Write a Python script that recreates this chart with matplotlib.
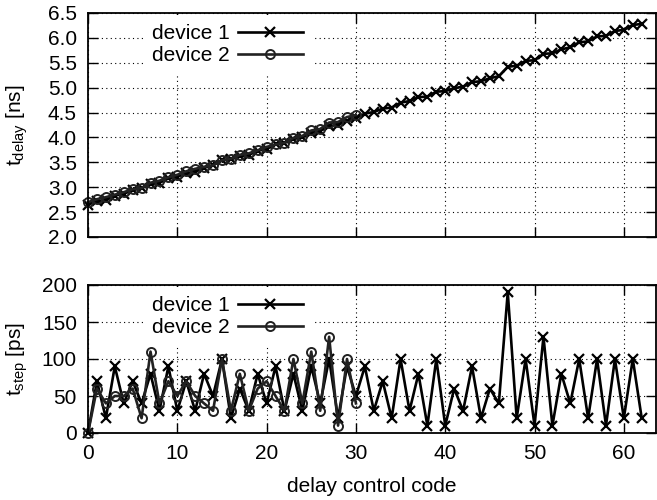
import numpy as np
import matplotlib
matplotlib.use("Agg")
import matplotlib.pyplot as plt

plt.rcParams['font.family'] = ['Liberation Sans', 'DejaVu Sans']
plt.rcParams['font.size'] = 15

# delay control code
code_dev1 = list(range(0, 63))
code_dev2 = list(range(0, 31))

# t_delay in ns
tdelay_dev1 = [2.65, 2.72, 2.74, 2.83, 2.87, 2.94, 2.98, 3.06, 3.09, 3.18,
               3.21, 3.28, 3.31, 3.39, 3.44, 3.54, 3.56, 3.62, 3.65, 3.73,
               3.77, 3.86, 3.89, 3.97, 4.00, 4.09, 4.13, 4.23, 4.25, 4.34,
               4.39, 4.48, 4.51, 4.58, 4.60, 4.70, 4.73, 4.81, 4.82, 4.92,
               4.93, 4.99, 5.02, 5.11, 5.13, 5.19, 5.23, 5.42, 5.44, 5.54,
               5.55, 5.68, 5.69, 5.77, 5.81, 5.91, 5.93, 6.03, 6.04, 6.14,
               6.16, 6.26, 6.28]
tdelay_dev2 = [2.70, 2.76, 2.80, 2.85, 2.90, 2.96, 2.98, 3.09, 3.13, 3.20,
               3.25, 3.32, 3.37, 3.41, 3.44, 3.54, 3.57, 3.65, 3.68, 3.74,
               3.81, 3.86, 3.89, 3.99, 4.03, 4.14, 4.17, 4.30, 4.31, 4.41,
               4.45]

# t_step in ps (bottom plot)
tstep_dev1 = [0, 70, 20, 90, 40, 70, 40, 80, 30, 90,
              30, 70, 30, 80, 50, 100, 20, 60, 30, 80,
              40, 90, 30, 80, 30, 90, 40, 100, 20, 90,
              50, 90, 30, 70, 20, 100, 30, 80, 10, 100,
              10, 60, 30, 90, 20, 60, 40, 190, 20, 100,
              10, 130, 10, 80, 40, 100, 20, 100, 10, 100,
              20, 100, 20]
tstep_dev2 = [0, 60, 40, 50, 50, 60, 20, 110, 40, 70,
              50, 70, 50, 40, 30, 100, 30, 80, 30, 60,
              70, 50, 30, 100, 40, 110, 30, 130, 10, 100,
              40]

W, H = 657, 500
fig = plt.figure(figsize=(W / 100, H / 100), dpi=100)

def box(l, t, r, b):
    # pixel box -> figure fraction
    return [l / W, 1 - b / H, (r - l) / W, (b - t) / H]

ax1 = fig.add_axes(box(88, 13, 656, 237))
ax2 = fig.add_axes(box(88, 285, 656, 433))

for ax in (ax1, ax2):
    ax.set_xlim(0, 63.6)
    ax.set_xticks(range(0, 70, 10))
    ax.grid(True, color='black', linestyle=(0, (1, 3)), linewidth=0.8)
    ax.set_axisbelow(True)
    ax.tick_params(direction='in', length=7, width=1, top=True, right=True, pad=8)
    for s in ax.spines.values():
        s.set_linewidth(1.3)
        s.set_zorder(5)

ax1.plot(code_dev1, tdelay_dev1, color='black', lw=1.9, marker='x', ms=6.5, mew=1.6,
         clip_on=False, label='device 1')
ax1.plot(code_dev2, tdelay_dev2, color='#222222', lw=1.9, marker='o', ms=6.5, mew=1.4,
         mfc='none', clip_on=False, label='device 2')
ax1.set_ylim(2.0, 6.5)
ax1.set_yticks(np.arange(2.0, 6.51, 0.5))
ax1.set_yticklabels(['%.1f' % v for v in np.arange(2.0, 6.51, 0.5)])
ax1.set_xticklabels([])
ax1.set_ylabel(r'$\mathregular{t_{delay}}$ [ns]')

ax2.plot(code_dev1, tstep_dev1, color='black', lw=1.9, marker='x', ms=6.5, mew=1.6,
         clip_on=False, label='device 1')
ax2.plot(code_dev2, tstep_dev2, color='#222222', lw=1.9, marker='o', ms=6.5, mew=1.4,
         mfc='none', clip_on=False, label='device 2')
ax2.set_ylim(0, 200)
ax2.set_yticks([0, 50, 100, 150, 200])
ax2.set_ylabel(r'$\mathregular{t_{step}}$ [ps]')
ax2.set_xlabel('delay control code', labelpad=10)

# legends: white box that breaks the grid, text left of the sample
for ax, top_px, bot_px in ((ax1, 15, 237), (ax2, 287, 433)):
    h = bot_px - (13 if ax is ax1 else 285)
    ax.legend(loc='upper right', bbox_to_anchor=((312 - 88) / 568, (bot_px - top_px) / h),
              markerfirst=False, handlelength=3.1, frameon=True,
              framealpha=1, facecolor='white', edgecolor='none',
              fancybox=False, borderpad=0.45, labelspacing=0.12,
              handletextpad=0.4, borderaxespad=0)

ax1.yaxis.set_label_coords(-0.102, 0.5)
ax2.yaxis.set_label_coords(-0.102, 0.5)

fig.savefig('out.png', dpi=100)
